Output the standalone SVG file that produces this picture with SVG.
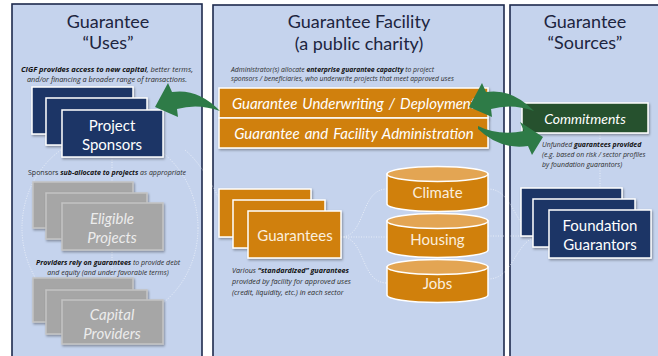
<svg xmlns="http://www.w3.org/2000/svg" width="658" height="356" viewBox="0 0 658 356">
  <style>
    .panel { fill: #c5d3ed; stroke: #1d2a4d; stroke-width: 1.6; }
    .title { font-family: Lato, "Open Sans", sans-serif; font-size: 18px; fill: #1d2540; text-anchor: middle; }
    .note { font-family: "Open Sans", Lato, sans-serif; font-size: 6.6px; font-style: italic; fill: #2b2b2b; }
    .note .b { font-weight: bold; fill: #111; }
    .navy rect { fill: #1b3466; stroke: #ffffff; stroke-width: 1.5; filter: url(#shadow); }
    .grey rect { fill: #a6a6a6; stroke: #c4c4c4; stroke-width: 1.5; filter: url(#shadow); }
    .orange rect { fill: #d0800c; stroke: #ffffff; stroke-width: 1.5; filter: url(#shadow); }
    .cyl path { fill: #d0800c; stroke: #ffffff; stroke-width: 1.5; }
    .cyl ellipse { fill: #e3a553; stroke: #ffffff; stroke-width: 1.5; }
    .lbl { font-family: Lato, "Open Sans", sans-serif; font-size: 15px; fill: #ffffff; text-anchor: middle; }
    .lbl-i { font-family: Lato, "Open Sans", sans-serif; font-size: 15px; font-style: italic; fill: #ffffff; text-anchor: middle; }
    .lbl-g { font-family: Lato, "Open Sans", sans-serif; font-size: 15px; font-style: italic; fill: #ececec; text-anchor: middle; }
    .lbl-o { font-family: Lato, "Open Sans", sans-serif; font-size: 15px; fill: #fbeedd; text-anchor: middle; }
    .link { fill: none; stroke: #ffffff; stroke-opacity: 0.75; stroke-width: 0.8; stroke-dasharray: 1 1.5; }
    .arrow { fill: #2e7b47; }
  </style>
  <defs>
    <filter id="shadow" x="-10%" y="-10%" width="130%" height="140%">
      <feDropShadow dx="1" dy="1.5" stdDeviation="1" flood-color="#000" flood-opacity="0.35"/>
    </filter>
  </defs>

  <rect width="658" height="356" fill="#ffffff"/>

  <!-- panels -->
  <g id="panels">
    <rect class="panel" x="12" y="4" width="190" height="360"/>
    <rect class="panel" x="213" y="5" width="291" height="360"/>
    <rect class="panel" x="510" y="5" width="160" height="360"/>
  </g>

  <!-- connectors -->
  <g id="connectors">
    <ellipse class="link" cx="110" cy="228" rx="88" ry="94"/>
    <path class="link" d="M112,157 L112,300"/>
    <path class="link" d="M185,150 C215,175 225,225 248,237"/>
    <path class="link" d="M341,237 C366,237 360,189 387,189"/>
    <path class="link" d="M341,237 L387,237"/>
    <path class="link" d="M341,237 C366,237 360,283 387,283"/>
    <path class="link" d="M488,189 C515,189 515,235 541,236"/>
    <path class="link" d="M488,236 L541,236"/>
    <path class="link" d="M488,279 C515,279 515,237 541,236"/>
    <path class="link" d="M600,133 L600,188"/>
  </g>

  <!-- left panel: uses -->
  <g id="uses-title">
    <text class="title" x="108" y="28">Guarantee</text>
    <text class="title" x="108" y="49">“Uses”</text>
  </g>
  <g id="uses-note">
    <text class="note" x="107" y="72" text-anchor="middle" style="font-size:7.5px"><tspan class="b">CIGF provides access to new capital</tspan>, better terms,</text>
    <text class="note" x="107" y="82" text-anchor="middle" style="font-size:7.3px">and/or financing a broader range of transactions.</text>
  </g>
  <g id="project-sponsors" class="navy">
    <rect x="32" y="87" width="101" height="47"/>
    <rect x="46" y="98" width="101" height="47"/>
    <rect x="62" y="110" width="101" height="47"/>
    <text class="lbl" x="112" y="131">Project</text>
    <text class="lbl" x="112" y="150">Sponsors</text>
  </g>
  <g id="sponsors-note">
    <text class="note" x="107" y="175" text-anchor="middle" style="font-style:normal;font-size:7px">Sponsors <tspan class="b" font-style="italic">sub-allocate to projects</tspan> <tspan font-style="italic">as appropriate</tspan></text>
  </g>
  <g id="eligible-projects" class="grey">
    <rect x="33" y="182" width="100" height="46"/>
    <rect x="46" y="193" width="101" height="46"/>
    <rect x="62" y="203" width="101" height="47"/>
    <text class="lbl-g" x="112" y="224">Eligible</text>
    <text class="lbl-g" x="112" y="243">Projects</text>
  </g>
  <g id="providers-note">
    <text class="note" x="108" y="265" text-anchor="middle" style="font-size:7px"><tspan class="b">Providers rely on guarantees</tspan> to provide debt</text>
    <text class="note" x="108" y="275" text-anchor="middle" style="font-size:7px">and equity (and under favorable terms)</text>
  </g>
  <g id="capital-providers" class="grey">
    <rect x="33" y="278" width="100" height="44"/>
    <rect x="46" y="290" width="101" height="44"/>
    <rect x="62" y="300" width="101" height="44"/>
    <text class="lbl-g" x="112" y="320">Capital</text>
    <text class="lbl-g" x="112" y="339">Providers</text>
  </g>

  <!-- middle panel: facility -->
  <g id="facility-title">
    <text class="title" x="359" y="28">Guarantee Facility</text>
    <text class="title" x="359" y="50">(a public charity)</text>
  </g>
  <g id="facility-note">
    <text class="note" x="231" y="72" style="font-size:6.8px">Administrator(s) allocate <tspan class="b">enterprise guarantee capacity</tspan> to project</text>
    <text class="note" x="231" y="81" style="font-size:6.8px">sponsors / beneficiaries, who underwrite projects that meet approved uses</text>
  </g>
  <g id="underwriting" class="orange">
    <rect x="219" y="88" width="269" height="30"/>
    <text class="lbl-i" x="354" y="109" word-spacing="1.5">Guarantee Underwriting / Deployment</text>
  </g>
  <g id="administration" class="orange">
    <rect x="219" y="118" width="269" height="30"/>
    <text class="lbl-i" x="354" y="139" word-spacing="1.5">Guarantee and Facility Administration</text>
  </g>
  <g id="guarantees" class="orange">
    <rect x="219" y="189" width="92" height="48"/>
    <rect x="233" y="200" width="92" height="48"/>
    <rect x="248" y="211" width="93" height="47"/>
    <text class="lbl-o" x="295" y="241">Guarantees</text>
  </g>
  <g id="guarantees-note">
    <text class="note" x="232" y="273" style="font-size:7.2px">Various <tspan class="b">“standardized” guarantees</tspan></text>
    <text class="note" x="232" y="284" style="font-size:7.2px">provided by facility for approved uses</text>
    <text class="note" x="232" y="295" style="font-size:7.2px">(credit, liquidity, etc.) in each sector</text>
  </g>
  <g id="climate" class="cyl">
    <path d="M387,174 L387,204 A50.5,7.5 0 0 0 488,204 L488,174 Z"/>
    <ellipse cx="437.5" cy="174" rx="50.5" ry="7.5"/>
    <text class="lbl-o" x="437.5" y="198">Climate</text>
  </g>
  <g id="housing" class="cyl">
    <path d="M387,221 L387,250 A50.5,7.5 0 0 0 488,250 L488,221 Z"/>
    <ellipse cx="437.5" cy="221" rx="50.5" ry="7.5"/>
    <text class="lbl-o" x="437.5" y="245">Housing</text>
  </g>
  <g id="jobs" class="cyl">
    <path d="M387,267 L387,295 A50.5,7.5 0 0 0 488,295 L488,267 Z"/>
    <ellipse cx="437.5" cy="267" rx="50.5" ry="7.5"/>
    <text class="lbl-o" x="437.5" y="289">Jobs</text>
  </g>

  <!-- right panel: sources -->
  <g id="sources-title">
    <text class="title" x="585" y="28">Guarantee</text>
    <text class="title" x="585" y="49">“Sources”</text>
  </g>
  <g id="commitments">
    <rect x="522" y="103" width="126" height="30" fill="#28512d" stroke="#ffffff" stroke-width="1.5" filter="url(#shadow)"/>
    <text class="lbl-i" x="585" y="124" style="font-size:14px">Commitments</text>
  </g>
  <g id="commitments-note">
    <text class="note" x="542" y="147" style="font-size:6.9px">Unfunded <tspan class="b">guarantees provided</tspan></text>
    <text class="note" x="542" y="157" style="font-size:6.9px">(e.g. based on risk / sector profiles</text>
    <text class="note" x="542" y="167" style="font-size:6.9px">by foundation guarantors)</text>
  </g>
  <g id="foundation-guarantors" class="navy">
    <rect x="521" y="188" width="101" height="48"/>
    <rect x="533" y="199" width="102" height="48"/>
    <rect x="549" y="210" width="102" height="48"/>
    <text class="lbl" x="600" y="231">Foundation</text>
    <text class="lbl" x="600" y="250">Guarantors</text>
  </g>

  <!-- flow arrows -->
  <g id="flow-arrows" class="arrow">
    <path d="M155,107 L168,83 L172,92 Q198,88 220,111 Q198,103 177,109 L178,117 Z"/>
    <path d="M469,107 L482,83 L486,92 Q512,88 534,111 Q512,103 491,109 L492,117 Z"/>
    <path d="M478,126 Q498,136 524,131 L520,122 L543,137 L532,155 L528,146 Q500,150 478,129 Z"/>
  </g>
</svg>
